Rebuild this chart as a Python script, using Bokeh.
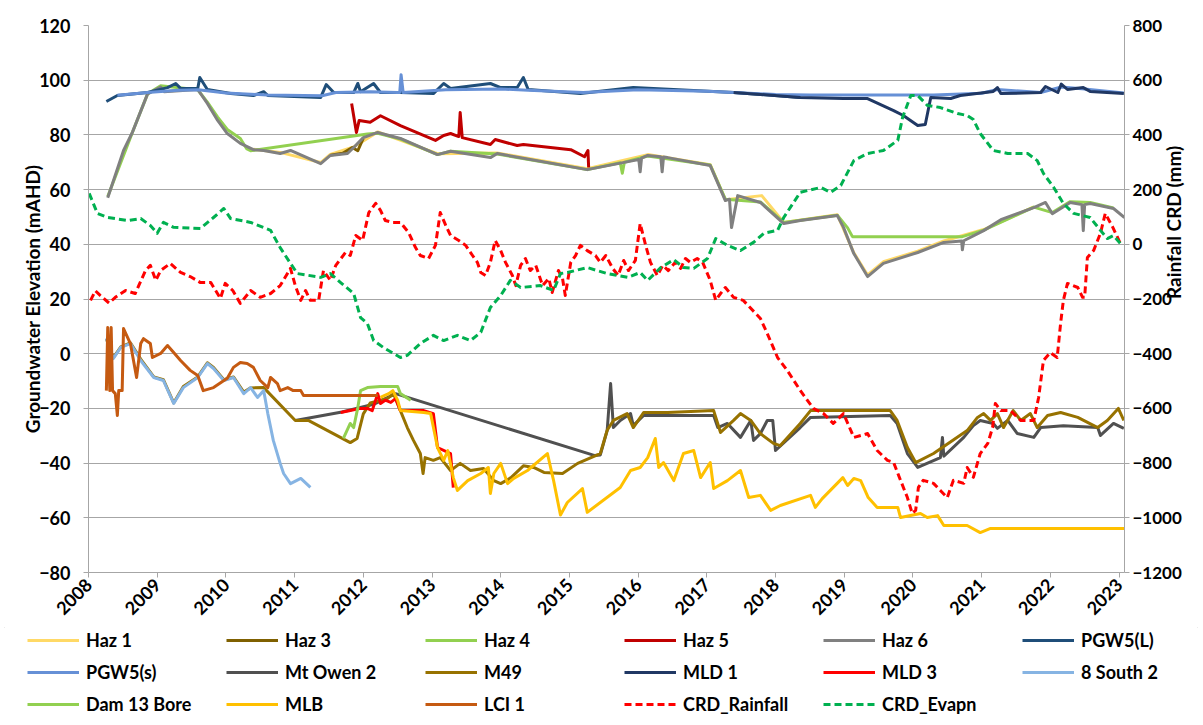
import math
from bokeh.plotting import figure
from bokeh.layouts import column
from bokeh.models import Range1d, LinearAxis, FixedTicker, Legend, LegendItem
from bokeh.embed import file_html
from bokeh.resources import INLINE

# ---------------- data ----------------
year_ticks = list(range(2008, 2024))
left_ticks = list(range(-80, 121, 20))
right_ticks = list(range(-1200, 801, 200))

haz1_x = [2010.40, 2010.79, 2011.38, 2011.52, 2011.86, 2012.21, 2013.08, 2013.95, 2015.26, 2016.14, 2017.05, 2017.27, 2017.80, 2018.12, 2018.90, 2019.14, 2019.34, 2019.57, 2020.07, 2020.45, 2021.03, 2021.76]
haz1_y = [74.8, 73.6, 69.9, 72.9, 75.6, 81.1, 73.1, 73.4, 67.6, 72.8, 69.1, 56.3, 57.8, 48.0, 50.8, 36.9, 28.8, 33.6, 37.5, 41.2, 45.4, 53.7]

haz3_x = [2011.52, 2011.70, 2011.84, 2011.92, 2012.00]
haz3_y = [72.6, 73.3, 75.4, 74.2, 78.8]

haz4_x = [2008.28, 2008.64, 2008.86, 2009.05, 2009.59, 2009.73, 2009.88, 2010.02, 2010.21, 2010.30, 2010.36, 2012.06, 2012.21, 2012.54, 2013.08, 2013.27, 2013.95, 2015.26, 2015.74, 2015.77, 2015.80, 2016.14, 2017.05, 2017.27, 2017.78, 2018.12, 2018.90, 2019.05, 2019.12, 2020.72, 2021.03, 2021.76, 2022.03, 2022.29, 2022.58, 2022.92]
haz4_y = [57.5, 81.0, 95.0, 98.0, 96.5, 92.0, 86.5, 82.0, 78.7, 75.0, 74.2, 80.3, 80.6, 78.5, 72.8, 74.0, 73.0, 67.3, 69.8, 66.0, 70.0, 72.3, 69.0, 56.5, 55.5, 48.0, 50.6, 46.0, 42.8, 42.8, 45.2, 53.6, 51.6, 55.6, 55.3, 53.3]

haz5_x = [2011.83, 2011.90, 2011.94, 2012.10, 2012.25, 2012.54, 2013.05, 2013.17, 2013.27, 2013.39, 2013.41, 2013.44, 2013.85, 2013.92, 2014.24, 2014.33, 2015.02, 2015.22, 2015.27, 2015.28]
haz5_y = [91.5, 80.9, 85.3, 84.6, 87.0, 83.4, 78.0, 79.8, 80.5, 79.4, 88.2, 79.0, 76.5, 78.3, 76.1, 76.5, 74.6, 72.0, 74.3, 68.1]

haz6_x = [2008.28, 2008.51, 2008.64, 2008.86, 2009.05, 2009.10, 2009.59, 2009.73, 2009.88, 2010.02, 2010.21, 2010.40, 2010.55, 2010.79, 2010.94, 2011.38, 2011.52, 2011.77, 2011.86, 2012.00, 2012.21, 2012.54, 2013.08, 2013.27, 2013.85, 2013.95, 2015.26, 2015.93, 2016.01, 2016.03, 2016.05, 2016.14, 2016.33, 2016.35, 2016.37, 2016.43, 2017.05, 2017.27, 2017.33, 2017.36, 2017.45, 2017.78, 2018.12, 2018.36, 2018.90, 2018.99, 2019.14, 2019.34, 2019.57, 2020.07, 2020.45, 2020.71, 2020.72, 2020.74, 2021.03, 2021.28, 2021.76, 2021.93, 2022.03, 2022.29, 2022.46, 2022.48, 2022.50, 2022.58, 2022.92, 2023.08]
haz6_y = [57.0, 74.3, 81.0, 95.0, 97.5, 95.8, 96.6, 91.5, 85.3, 80.5, 76.9, 74.6, 74.3, 73.2, 74.3, 69.5, 72.5, 73.2, 75.4, 79.0, 80.9, 78.7, 72.8, 74.0, 71.7, 73.2, 67.3, 70.6, 71.0, 66.5, 71.5, 72.5, 72.0, 66.5, 71.9, 71.7, 68.8, 56.0, 56.5, 46.1, 57.8, 55.3, 47.6, 48.7, 50.5, 46.2, 36.6, 28.2, 33.0, 37.0, 40.7, 41.2, 38.0, 41.3, 45.0, 49.0, 53.4, 55.3, 51.2, 55.3, 54.5, 45.0, 54.5, 54.9, 53.1, 49.8]

pgw5l_x = [2008.26, 2008.42, 2008.86, 2009.15, 2009.27, 2009.34, 2009.59, 2009.62, 2009.73, 2010.07, 2010.40, 2010.55, 2010.61, 2011.38, 2011.46, 2011.57, 2011.86, 2011.92, 2011.96, 2012.15, 2012.25, 2012.54, 2013.02, 2013.17, 2013.27, 2013.85, 2014.00, 2014.24, 2014.33, 2014.40, 2015.16, 2015.93, 2017.39, 2018.36]
pgw5l_y = [92.2, 94.4, 95.5, 97.3, 98.8, 97.0, 97.0, 101.0, 96.6, 95.1, 94.4, 95.8, 94.4, 93.7, 98.4, 95.5, 95.5, 98.8, 95.8, 98.8, 95.5, 95.5, 95.1, 98.8, 97.0, 98.8, 97.3, 97.3, 101.0, 96.6, 95.1, 97.3, 95.5, 93.7]

pgw5s_x = [2008.42, 2008.86, 2009.30, 2009.60, 2010.00, 2010.60, 2011.40, 2011.60, 2012.10, 2012.50, 2012.53, 2012.55, 2012.58, 2013.20, 2014.00, 2014.40, 2015.20, 2016.00, 2017.00, 2017.40, 2018.00, 2018.50, 2020.30, 2021.00, 2021.23, 2021.86, 2022.16, 2022.50, 2023.07]
pgw5s_y = [94.5, 95.5, 96.3, 96.5, 95.3, 94.6, 94.3, 95.5, 95.8, 95.5, 95.5, 102.0, 95.5, 96.5, 96.8, 96.3, 95.5, 96.5, 96.0, 95.5, 94.8, 94.6, 94.6, 95.2, 96.6, 95.5, 97.5, 96.8, 95.3]

mto2_x = [2011.01, 2011.69, 2012.15, 2012.47, 2015.36, 2015.45, 2015.55, 2015.60, 2015.64, 2015.74, 2015.89, 2015.93, 2016.08, 2017.10, 2017.16, 2017.30, 2017.49, 2017.64, 2017.68, 2017.78, 2017.88, 2017.96, 2018.00, 2018.36, 2018.51, 2019.67, 2019.77, 2019.92, 2020.07, 2020.40, 2020.43, 2020.45, 2020.74, 2020.88, 2020.98, 2021.17, 2021.23, 2021.38, 2021.52, 2021.76, 2021.86, 2022.19, 2022.69, 2022.73, 2022.92, 2023.07]
mto2_y = [-24.4, -21.3, -18.5, -14.6, -37.2, -37.0, -28.0, -10.9, -27.0, -24.4, -21.9, -26.3, -22.6, -22.6, -27.0, -25.5, -30.6, -24.4, -31.7, -29.2, -24.4, -24.4, -35.4, -27.0, -23.3, -22.6, -25.5, -36.5, -41.6, -38.0, -30.6, -37.5, -30.6, -26.3, -24.4, -25.5, -27.3, -24.4, -29.2, -30.6, -27.0, -26.3, -27.0, -29.9, -25.5, -27.3]

m49_x = [2008.26, 2008.36, 2008.47, 2008.61, 2008.76, 2008.95, 2009.09, 2009.24, 2009.38, 2009.59, 2009.73, 2009.82, 2009.97, 2010.11, 2010.26, 2010.36, 2010.55, 2011.01, 2011.20, 2011.81, 2011.91, 2012.00, 2012.10, 2012.35, 2012.44, 2012.54, 2012.64, 2012.73, 2012.83, 2012.87, 2012.90, 2013.02, 2013.12, 2013.27, 2013.41, 2013.56, 2013.75, 2013.90, 2014.00, 2014.15, 2014.33, 2014.48, 2014.63, 2014.90, 2015.12, 2015.45, 2015.55, 2015.64, 2015.84, 2015.93, 2016.08, 2016.43, 2017.10, 2017.20, 2017.39, 2017.49, 2017.64, 2017.78, 2017.97, 2018.07, 2018.36, 2018.51, 2019.67, 2019.77, 2019.92, 2020.04, 2020.30, 2020.79, 2020.94, 2021.03, 2021.13, 2021.23, 2021.32, 2021.46, 2021.57, 2021.71, 2021.81, 2021.96, 2022.15, 2022.40, 2022.69, 2022.83, 2022.99, 2023.07]
m49_y = [5.5, -1.5, 2.5, 4.0, -2.0, -8.5, -9.5, -18.0, -12.0, -8.5, -3.3, -5.0, -9.5, -8.5, -14.0, -12.5, -12.4, -24.4, -24.4, -32.5, -31.0, -22.0, -18.0, -16.4, -14.6, -20.8, -27.0, -31.7, -36.5, -43.8, -38.0, -39.0, -38.0, -42.7, -40.1, -42.7, -42.0, -46.4, -47.5, -45.3, -41.0, -41.6, -43.4, -43.8, -40.1, -36.5, -28.0, -24.4, -21.9, -27.0, -21.5, -21.5, -20.8, -28.8, -24.4, -21.9, -24.4, -29.2, -32.8, -33.6, -25.5, -20.8, -20.8, -24.4, -34.3, -39.8, -36.5, -28.1, -23.3, -21.9, -24.4, -21.9, -27.0, -20.8, -24.4, -21.9, -27.0, -22.6, -21.5, -23.3, -27.0, -24.4, -20.0, -24.4]

mld1_x = [2017.39, 2018.36, 2018.99, 2019.34, 2019.72, 2019.86, 2020.07, 2020.18, 2020.26, 2020.55, 2020.69, 2021.17, 2021.23, 2021.28, 2021.86, 2021.93, 2022.11, 2022.16, 2022.25, 2022.48, 2022.58, 2023.07]
mld1_y = [95.5, 93.7, 93.3, 93.3, 88.9, 87.1, 83.4, 83.8, 93.7, 93.3, 94.4, 95.9, 97.3, 95.1, 95.5, 97.7, 95.5, 98.6, 96.6, 97.3, 95.9, 95.1]

mld3_x = [2011.67, 2011.81, 2011.96, 2012.06, 2012.13, 2012.21, 2012.25, 2012.32, 2012.40, 2012.47, 2012.54, 2012.88, 2013.02, 2013.08, 2013.27, 2013.31]
mld3_y = [-21.5, -20.8, -20.0, -20.0, -20.8, -14.6, -18.2, -17.0, -17.8, -16.4, -20.8, -20.8, -21.9, -34.3, -36.5, -49.0]

s8_x = [2008.26, 2008.36, 2008.47, 2008.61, 2008.76, 2008.95, 2009.09, 2009.24, 2009.38, 2009.59, 2009.73, 2009.82, 2009.97, 2010.11, 2010.26, 2010.36, 2010.46, 2010.55, 2010.61, 2010.69, 2010.79, 2010.84, 2010.94, 2011.09, 2011.23]
s8_y = [5.6, -1.8, 2.3, 3.7, -2.5, -8.7, -9.8, -18.2, -12.4, -8.7, -3.6, -5.4, -9.8, -8.7, -14.6, -12.4, -16.0, -13.5, -21.9, -31.7, -40.1, -43.8, -47.5, -45.6, -48.9]

d13_x = [2011.71, 2011.81, 2011.86, 2011.92, 2011.96, 2012.06, 2012.25, 2012.50, 2012.54, 2012.69]
d13_y = [-31.0, -25.5, -27.0, -19.7, -13.5, -12.4, -12.0, -12.0, -14.6, -17.0]

mlb_x = [2012.25, 2012.37, 2012.43, 2012.50, 2012.54, 2012.88, 2012.98, 2013.08, 2013.17, 2013.23, 2013.31, 2013.37, 2013.52, 2013.71, 2013.82, 2013.85, 2013.90, 2014.00, 2014.10, 2014.19, 2014.39, 2014.68, 2014.77, 2014.87, 2014.97, 2015.19, 2015.26, 2015.74, 2015.89, 2016.03, 2016.14, 2016.25, 2016.30, 2016.37, 2016.52, 2016.66, 2016.81, 2016.91, 2017.05, 2017.10, 2017.30, 2017.49, 2017.61, 2017.78, 2017.93, 2018.07, 2018.51, 2018.58, 2018.68, 2018.98, 2019.05, 2019.14, 2019.24, 2019.35, 2019.48, 2019.78, 2019.82, 2020.11, 2020.21, 2020.36, 2020.45, 2020.79, 2020.98, 2021.13, 2023.08]
mlb_y = [-16.0, -14.6, -13.5, -17.0, -20.8, -21.5, -21.9, -34.3, -39.0, -35.4, -45.3, -50.0, -46.4, -43.8, -41.6, -51.1, -43.8, -40.1, -47.5, -45.6, -42.7, -36.5, -46.4, -59.0, -54.4, -49.3, -58.0, -48.9, -42.7, -41.6, -38.0, -31.0, -41.6, -39.8, -46.4, -36.5, -35.4, -45.3, -39.8, -49.3, -46.4, -42.7, -52.6, -51.8, -57.3, -55.5, -51.8, -56.2, -53.0, -45.3, -48.2, -45.6, -46.4, -52.6, -56.2, -56.2, -59.9, -58.4, -59.9, -59.2, -62.8, -62.8, -65.4, -63.9, -63.9]

lci1_x = [2008.26, 2008.28, 2008.31, 2008.33, 2008.35, 2008.39, 2008.42, 2008.44, 2008.49, 2008.51, 2008.61, 2008.70, 2008.76, 2008.80, 2008.90, 2008.93, 2009.05, 2009.15, 2009.24, 2009.34, 2009.48, 2009.59, 2009.67, 2009.82, 2010.02, 2010.11, 2010.21, 2010.31, 2010.40, 2010.50, 2010.61, 2010.65, 2010.75, 2010.79, 2010.90, 2010.98, 2011.09, 2011.13, 2012.21]
lci1_y = [-13.5, 9.6, -13.5, 9.6, -13.5, -14.6, -22.6, -13.5, -13.5, 9.2, 3.7, -8.7, 3.7, 5.5, 3.7, -1.4, 0.1, 3.0, 0.4, -2.5, -6.1, -8.0, -13.5, -12.4, -9.0, -5.0, -3.2, -3.6, -5.0, -9.8, -12.4, -8.7, -10.9, -13.5, -12.4, -13.5, -13.5, -15.3, -15.3]

rain_x = [2008.03, 2008.10, 2008.17, 2008.30, 2008.39, 2008.54, 2008.68, 2008.83, 2008.90, 2008.98, 2009.05, 2009.19, 2009.34, 2009.48, 2009.63, 2009.78, 2009.92, 2009.99, 2010.10, 2010.21, 2010.36, 2010.50, 2010.65, 2010.79, 2010.94, 2011.01, 2011.09, 2011.16, 2011.23, 2011.35, 2011.42, 2011.52, 2011.60, 2011.74, 2011.81, 2011.89, 2011.99, 2012.08, 2012.18, 2012.25, 2012.32, 2012.43, 2012.54, 2012.66, 2012.76, 2012.83, 2012.95, 2013.05, 2013.12, 2013.20, 2013.27, 2013.39, 2013.49, 2013.59, 2013.66, 2013.71, 2013.78, 2013.85, 2013.92, 2014.00, 2014.07, 2014.17, 2014.22, 2014.29, 2014.36, 2014.43, 2014.51, 2014.61, 2014.70, 2014.75, 2014.84, 2014.90, 2014.94, 2015.02, 2015.09, 2015.16, 2015.26, 2015.38, 2015.45, 2015.53, 2015.63, 2015.71, 2015.79, 2015.86, 2015.96, 2016.03, 2016.11, 2016.18, 2016.28, 2016.36, 2016.44, 2016.54, 2016.62, 2016.69, 2016.76, 2016.86, 2016.94, 2017.05, 2017.13, 2017.20, 2017.27, 2017.39, 2017.53, 2017.78, 2017.88, 2018.03, 2018.17, 2018.36, 2018.55, 2018.70, 2018.84, 2018.99, 2019.14, 2019.34, 2019.48, 2019.63, 2019.72, 2019.82, 2019.92, 2019.99, 2020.04, 2020.08, 2020.15, 2020.30, 2020.40, 2020.50, 2020.59, 2020.74, 2020.79, 2020.88, 2020.98, 2021.09, 2021.16, 2021.20, 2021.28, 2021.42, 2021.57, 2021.76, 2021.83, 2021.90, 2022.00, 2022.10, 2022.15, 2022.19, 2022.25, 2022.40, 2022.47, 2022.50, 2022.54, 2022.63, 2022.73, 2022.80, 2022.91, 2023.02]
rain_y = [-205, -170, -187, -215, -194, -169, -180, -96, -77, -132, -96, -70, -103, -118, -140, -140, -198, -143, -169, -216, -169, -194, -180, -151, -88, -151, -205, -169, -205, -205, -96, -132, -77, -30, -41, 32, 14, 116, 150, 124, 87, 80, 80, 43, -12, -41, -52, -4, 116, 69, 32, 14, -4, -41, -66, -103, -114, -66, 14, -23, -66, -114, -151, -77, -52, -96, -77, -151, -125, -176, -96, -125, -187, -66, -41, -4, -23, -41, -66, -41, -88, -114, -59, -96, -59, 76, -4, -66, -114, -77, -96, -66, -88, -52, -66, -52, -66, -132, -205, -180, -158, -194, -205, -271, -326, -414, -461, -534, -600, -619, -655, -619, -706, -692, -754, -790, -798, -863, -926, -984, -973, -889, -863, -874, -900, -926, -863, -874, -816, -852, -765, -728, -670, -582, -608, -608, -644, -644, -560, -425, -396, -414, -289, -205, -143, -158, -194, -194, -48, -23, 40, 113, 62, 3]

evap_x = [2008.01, 2008.13, 2008.28, 2008.57, 2008.76, 2008.90, 2009.00, 2009.09, 2009.24, 2009.63, 2009.82, 2009.97, 2010.07, 2010.36, 2010.65, 2010.79, 2010.94, 2011.04, 2011.38, 2011.52, 2011.67, 2011.86, 2011.96, 2012.06, 2012.15, 2012.29, 2012.54, 2012.64, 2012.83, 2013.02, 2013.17, 2013.37, 2013.56, 2013.71, 2013.85, 2014.00, 2014.14, 2014.29, 2014.58, 2014.77, 2014.87, 2014.97, 2015.26, 2015.55, 2015.85, 2016.03, 2016.14, 2016.33, 2016.52, 2016.66, 2016.81, 2017.01, 2017.13, 2017.30, 2017.49, 2017.68, 2017.83, 2018.03, 2018.12, 2018.36, 2018.66, 2018.80, 2018.95, 2019.14, 2019.34, 2019.57, 2019.78, 2019.85, 2019.97, 2020.07, 2020.21, 2020.40, 2020.65, 2020.79, 2020.88, 2020.98, 2021.17, 2021.38, 2021.67, 2021.81, 2021.90, 2022.05, 2022.19, 2022.34, 2022.58, 2022.73, 2022.83, 2022.92, 2023.02]
evap_y = [186, 113, 98, 87, 94, 69, 40, 80, 62, 58, 98, 131, 94, 80, 51, -12, -70, -107, -121, -107, -140, -180, -268, -290, -352, -377, -414, -406, -363, -333, -352, -333, -352, -322, -231, -187, -132, -158, -151, -169, -107, -103, -85, -107, -121, -103, -132, -85, -56, -85, -88, -52, 21, -4, -23, 7, 40, 51, 98, 190, 208, 190, 215, 306, 332, 343, 380, 464, 544, 544, 508, 500, 478, 471, 456, 405, 343, 332, 332, 306, 259, 208, 149, 113, 98, 51, 21, 32, 3]

# ---------------- main figure ----------------
FONT = "Lato"
GRID = "#a6a6a6"

p = figure(width=1202, height=627,
           x_range=Range1d(2008, 2023.08), y_range=Range1d(-80, 120),
           output_backend="svg", toolbar_location=None,
           min_border_left=88, min_border_right=78, min_border_top=25, min_border_bottom=55)
p.extra_y_ranges = {"rain": Range1d(-1200, 800)}
p.outline_line_color = None
p.background_fill_color = "white"
p.border_fill_color = "white"
p.xgrid.visible = False
p.ygrid.grid_line_color = GRID
p.ygrid.grid_line_width = 1

def style_axis(ax, size):
    ax.axis_line_color = GRID
    ax.major_tick_line_color = GRID
    ax.major_tick_out = 5
    ax.major_tick_in = 0
    ax.minor_tick_line_color = None
    ax.major_label_text_font = FONT
    ax.major_label_text_font_style = "bold"
    ax.major_label_text_font_size = size
    ax.major_label_text_color = "black"
    ax.axis_label_text_font = FONT
    ax.axis_label_text_font_style = "bold"
    ax.axis_label_text_font_size = "19px"
    ax.axis_label_text_color = "black"

xa = p.xaxis[0]
xa.ticker = FixedTicker(ticks=year_ticks)
xa.major_label_orientation = math.pi / 4
xa.major_label_standoff = 4
style_axis(xa, "18px")

ya = p.yaxis[0]
ya.ticker = FixedTicker(ticks=left_ticks)
ya.axis_label = "Groundwater Elevation (mAHD)"
ya.major_label_standoff = 13
ya.axis_label_standoff = -8
style_axis(ya, "18px")

ra = LinearAxis(y_range_name="rain", ticker=FixedTicker(ticks=right_ticks),
                axis_label="Rainfall CRD (mm)")
style_axis(ra, "17px")
ra.major_label_standoff = 3
ra.axis_label_standoff = -11
try:
    ra.axis_label_orientation = math.pi / 2
except Exception:
    pass
p.add_layout(ra, "right")

series = [
    ("Haz 1", haz1_x, haz1_y, "#FFD966", None),
    ("Haz 3", haz3_x, haz3_y, "#7F6000", None),
    ("Haz 4", haz4_x, haz4_y, "#92D050", None),
    ("Haz 5", haz5_x, haz5_y, "#C00000", None),
    ("Haz 6", haz6_x, haz6_y, "#808080", None),
    ("PGW5(L)", pgw5l_x, pgw5l_y, "#1F4E79", None),
    ("PGW5(s)", pgw5s_x, pgw5s_y, "#6690D6", None),
    ("Mt Owen 2", mto2_x, mto2_y, "#505050", None),
    ("M49", m49_x, m49_y, "#977200", None),
    ("MLD 1", mld1_x, mld1_y, "#203864", None),
    ("MLD 3", mld3_x, mld3_y, "#FF0000", None),
    ("8 South 2", s8_x, s8_y, "#86B4E3", None),
    ("Dam 13 Bore", d13_x, d13_y, "#92D050", None),
    ("MLB", mlb_x, mlb_y, "#FFC000", None),
    ("LCI 1", lci1_x, lci1_y, "#C55A11", None),
    ("CRD_Rainfall", rain_x, rain_y, "#FF0000", "rain"),
    ("CRD_Evapn", evap_x, evap_y, "#00B050", "rain"),
]

# ---------------- legend strip (separate, below the chart) ----------------
lg = figure(width=1202, height=94, output_backend="svg", toolbar_location=None,
            x_axis_type=None, y_axis_type=None, min_border=0,
            x_range=Range1d(0, 1), y_range=Range1d(0, 1))
lg.grid.visible = False
lg.outline_line_color = None
lg.background_fill_color = "white"
lg.border_fill_color = "white"
try:
    lg.frame_align = False
except Exception:
    pass

keys = []
for label, xs, ys, color, rng in series:
    kw = {}
    if rng:
        kw["y_range_name"] = rng
        kw["line_dash"] = "7 4"
    p.line(xs, ys, line_color=color, line_width=3, line_join="round", **kw)
    # legend key renderer: the series' end points fall outside the strip's
    # 0..1 ranges, so only its legend glyph is visible
    dash = "7 4" if rng else "solid"
    key = lg.line([xs[0], xs[-1]], [ys[0], ys[-1]], line_color=color, line_width=3, line_dash=dash)
    keys.append(LegendItem(label=label, renderers=[key]))

# legend fills column-first; reorder so it reads row by row (6 per row)
NCOL, NROW = 6, 3
ordered = []
for c in range(NCOL):
    for r in range(NROW):
        i = r * NCOL + c
        if i < len(keys):
            ordered.append(keys[i])

legend = Legend(items=ordered, ncols=NCOL, location=(27, 6),
                glyph_width=52, glyph_height=20, label_standoff=7,
                label_width=130, label_height=20, spacing=10, padding=4, margin=0,
                label_text_font=FONT, label_text_font_style="bold",
                label_text_font_size="18px", label_text_color="black",
                border_line_color=None, background_fill_alpha=0)
lg.add_layout(legend)

layout = column(p, lg, spacing=0,
                styles={"outline": "1px solid #d9d9d9", "outline-offset": "-5px"})

open("out.html", "w").write(file_html(layout, INLINE))
